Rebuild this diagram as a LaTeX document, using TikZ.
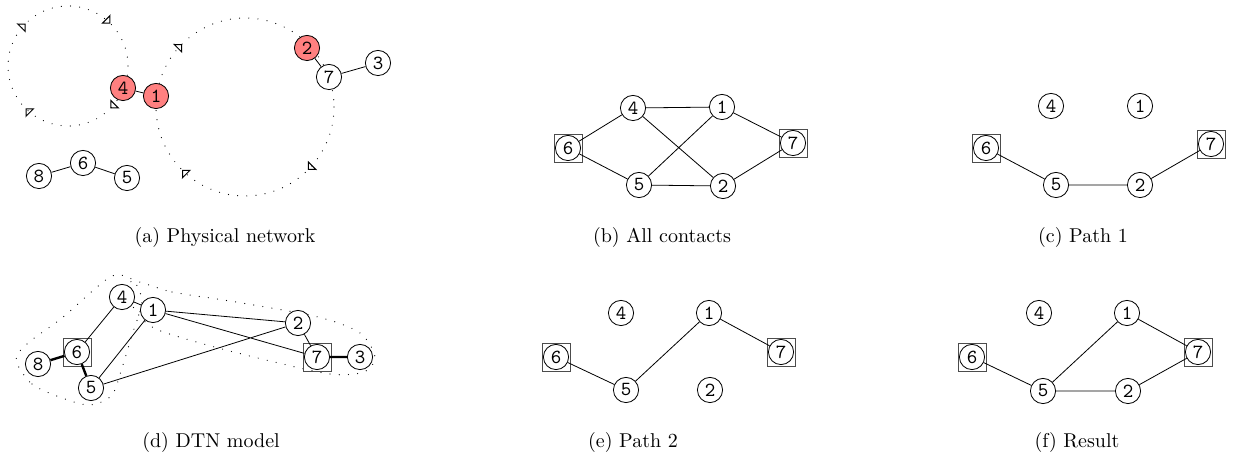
\documentclass[tikz,border=0pt]{standalone}
\usetikzlibrary{arrows.meta,decorations.markings}
\begin{document}
\begin{tikzpicture}[x=0.5pt,y=-0.5pt,
  vtx/.style={draw,circle,fill=white,inner sep=0pt,minimum size=12.6pt,font=\ttfamily},
  hot/.style={vtx,fill=red!50},
  sqbox/.style={draw=black!70,inner sep=0pt,minimum size=14pt},
  strong/.style={line width=1.2pt},
  zone/.style={line width=0.6pt,line cap=round,dash pattern=on 0pt off 4.6pt},
  orbit/.style={zone,postaction={decorate},decoration={markings,
    mark=between positions 0.125 and 0.875 step 0.25 with {\arrow[line width=0.5pt]{Triangle[open,angle=90:4.5pt]}}}}]
\useasboundingbox (0,0) rectangle (1238,464);

\draw[orbit] (68,66) circle (60);
\draw[orbit] (245,107) circle (89);
\node[hot] (a4) at (123,88) {4};
\node[hot] (a1) at (156,96) {1};
\node[hot] (a2) at (307,48) {2};
\node[vtx] (a7) at (329,77) {7};
\node[vtx] (a3) at (378,63) {3};
\node[vtx] (a8) at (39,176) {8};
\node[vtx] (a6) at (83,163) {6};
\node[vtx] (a5) at (127,178) {5};
\draw (a4) -- (a1) (a2) -- (a7) -- (a3) (a8) -- (a6) -- (a5);
\node (capa) at (225,238) {(a) Physical network};

\node[sqbox] (bs6) at (568,148) {};
\node[sqbox] (bs7) at (793,143) {};
\node[vtx] (b4) at (633,108) {4};
\node[vtx] (b1) at (722,107) {1};
\node[vtx] (b6) at (568,148) {6};
\node[vtx] (b7) at (793,143) {7};
\node[vtx] (b5) at (639,185) {5};
\node[vtx] (b2) at (723,186) {2};
\draw (b6) -- (b4) -- (b1) -- (b7) -- (b2) -- (b5) -- (b6);
\draw (b4) -- (b2) (b5) -- (b1);
\node (capb) at (662,238) {(b) All contacts};

\node[sqbox] (cs6) at (986,148) {};
\node[sqbox] (cs7) at (1211,144) {};
\node[vtx] (c4) at (1051,106) {4};
\node[vtx] (c1) at (1140,106) {1};
\node[vtx] (c6) at (986,148) {6};
\node[vtx] (c7) at (1211,144) {7};
\node[vtx] (c5) at (1056,185) {5};
\node[vtx] (c2) at (1140,185) {2};
\draw (c6) -- (c5) -- (c2) -- (c7);
\node (capc) at (1083,238) {(c) Path 1};

\draw[zone] plot[smooth cycle] coordinates {(16,360) (32,384) (62,398) (90,405) (112,395) (122,368) (132,335) (142,302) (133,280) (115,275) (97,287) (62,318) (28,343)};
\draw[zone] plot[smooth cycle] coordinates {(132,281) (172,292) (236,302) (318,317) (360,333) (375,357) (364,372) (330,374) (266,360) (200,343) (152,327) (131,303)};
\node[sqbox] (ds6) at (77,352) {};
\node[sqbox] (ds7) at (317,357) {};
\node[vtx] (d4) at (122,297) {4};
\node[vtx] (d1) at (153,310) {1};
\node[vtx] (d2) at (298,323) {2};
\node[vtx] (d7) at (317,357) {7};
\node[vtx] (d3) at (360,357) {3};
\node[vtx] (d8) at (38,364) {8};
\node[vtx] (d6) at (77,352) {6};
\node[vtx] (d5) at (91,388) {5};
\draw (d6) -- (d4) -- (d1) -- (d5) -- (d2) -- (d1) -- (d7) -- (d2);
\draw[strong] (d8) -- (d6) -- (d5) (d7) -- (d3);
\node (capd) at (211,443) {(d) DTN model};

\node[sqbox] (es6) at (556,357) {};
\node[sqbox] (es7) at (781,352) {};
\node[vtx] (e4) at (621,313) {4};
\node[vtx] (e1) at (709,313) {1};
\node[vtx] (e6) at (556,357) {6};
\node[vtx] (e7) at (781,352) {7};
\node[vtx] (e5) at (626,390) {5};
\node[vtx] (e2) at (710,390) {2};
\draw (e6) -- (e5) -- (e1) -- (e7);
\node (cape) at (633,443) {(e) Path 2};

\node[sqbox] (fs6) at (972,357) {};
\node[sqbox] (fs7) at (1198,352) {};
\node[vtx] (f4) at (1039,313) {4};
\node[vtx] (f1) at (1127,313) {1};
\node[vtx] (f6) at (972,357) {6};
\node[vtx] (f7) at (1198,352) {7};
\node[vtx] (f5) at (1043,391) {5};
\node[vtx] (f2) at (1128,391) {2};
\draw (f6) -- (f5) -- (f1) -- (f7) -- (f2) -- (f5);
\node (capf) at (1077,443) {(f) Result};
\end{tikzpicture}
\end{document}
